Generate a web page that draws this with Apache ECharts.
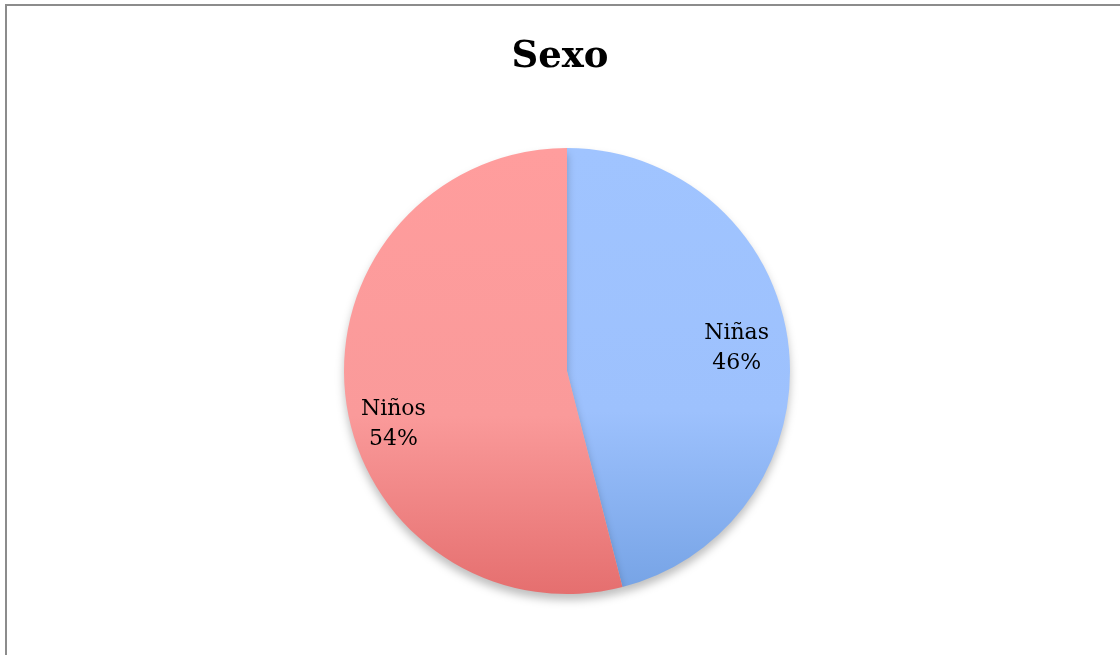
<!DOCTYPE html>
<html>
<head>
<meta charset="utf-8">
<script src="https://cdn.jsdelivr.net/npm/echarts@6/dist/echarts.min.js"></script>
<style>
html,body{margin:0;padding:0;background:#fff;}
#c{width:1120px;height:655px;}
</style>
</head>
<body>
<div id="c"></div>
<script>
const categories = ['Niñas', 'Niños'];
const values = [46, 54];
const title = 'Sexo';

const palette = [
  ['#a0c4ff', '#9dc1fd', '#77a4e6'],
  ['#ff9d9d', '#fa9a9a', '#e56f6f']
];

const chart = echarts.init(document.getElementById('c'));
chart.setOption({
  backgroundColor: '#fff',
  animation: false,
  title: {
    text: title,
    left: 'center',
    top: 34,
    textStyle: { fontFamily: 'DejaVu Serif', fontWeight: 'bold', fontSize: 37, color: '#000' }
  },
  graphic: [{
    type: 'rect',
    shape: { x: 6, y: 5, width: 1300, height: 800 },
    style: { fill: 'none', stroke: '#8c8c8c', lineWidth: 2 },
    silent: true
  }],
  series: [{
    type: 'pie',
    center: [567, 371],
    radius: 223,
    startAngle: 90,
    clockwise: true,
    data: categories.map((c, i) => ({
      name: c,
      value: values[i],
      itemStyle: {
        color: new echarts.graphic.LinearGradient(0, 0, 0, 1, [
          { offset: 0, color: palette[i][0] },
          { offset: 0.6, color: palette[i][1] },
          { offset: 1, color: palette[i][2] }
        ])
      }
    })),
    itemStyle: {
      borderWidth: 0,
      shadowBlur: 8,
      shadowOffsetY: 6,
      shadowColor: 'rgba(0,0,0,0.25)'
    },
    label: {
      show: true,
      position: 'inside',
      formatter: p => p.name + '\n' + Math.round(p.percent) + '%',
      fontFamily: 'DejaVu Serif',
      fontSize: 22,
      lineHeight: 30,
      color: '#000'
    },
    labelLine: { show: false },
    labelLayout: function (p) {
      return p.dataIndex === 0 ? { dx: 56, dy: -8 } : { dx: -60, dy: 39 };
    }
  }]
});
</script>
</body>
</html>
